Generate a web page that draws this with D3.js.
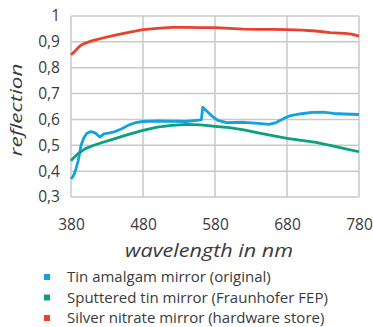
<!DOCTYPE html>
<html>
<head>
<meta charset="utf-8">
<script src="https://cdn.jsdelivr.net/npm/d3@7"></script>
<style>
  body { margin: 0; background: #fff; }
  svg text { font-family: "Open Sans", sans-serif; fill: #3a3a3a; }
</style>
</head>
<body>
<div id="chart"></div>
<script>
// data
const xTicks = [380, 480, 580, 680, 780];
const yTicks = [0.3, 0.4, 0.5, 0.6, 0.7, 0.8, 0.9, 1];

const tinWl  = [380, 383, 386, 390, 394, 398, 402, 408, 414, 420, 426, 432, 440, 450, 460, 470, 480, 500, 520, 540, 561, 563, 575, 584, 596, 620, 640, 655, 665, 675, 685, 700, 715, 730, 745, 760, 780];
const tinVal = [0.37, 0.38, 0.40, 0.44, 0.50, 0.53, 0.546, 0.553, 0.547, 0.532, 0.544, 0.547, 0.552, 0.563, 0.578, 0.588, 0.592, 0.594, 0.593, 0.592, 0.598, 0.647, 0.615, 0.596, 0.588, 0.589, 0.585, 0.581, 0.588, 0.603, 0.615, 0.622, 0.627, 0.628, 0.623, 0.621, 0.619];

const sputWl  = [380, 385, 390, 400, 410, 420, 440, 460, 480, 500, 520, 540, 560, 580, 600, 620, 640, 660, 680, 700, 720, 740, 760, 780];
const sputVal = [0.44, 0.455, 0.468, 0.487, 0.498, 0.508, 0.525, 0.542, 0.558, 0.57, 0.577, 0.581, 0.579, 0.573, 0.568, 0.56, 0.548, 0.537, 0.527, 0.519, 0.511, 0.5, 0.487, 0.475];

const silvWl  = [380, 385, 390, 395, 400, 410, 420, 440, 460, 480, 500, 520, 540, 560, 580, 600, 620, 640, 660, 680, 700, 720, 740, 760, 770, 780];
const silvVal = [0.85, 0.862, 0.878, 0.889, 0.895, 0.905, 0.912, 0.925, 0.937, 0.947, 0.952, 0.956, 0.956, 0.955, 0.955, 0.952, 0.949, 0.948, 0.948, 0.947, 0.945, 0.942, 0.936, 0.933, 0.930, 0.922];

const seriesNames  = ['Tin amalgam mirror (original)', 'Sputtered tin mirror (Fraunhofer FEP)', 'Silver nitrate mirror (hardware store)'];
const seriesColors = ['#12a3df', '#0aa082', '#e8422f'];

const W = 373, H = 327;
const margin = {top: 16, left: 71, right: 14, bottom: 130};
const width = W - margin.left - margin.right,
      height = H - margin.top - margin.bottom;

const svg = d3.select('#chart').append('svg')
    .attr('width', W).attr('height', H);

const g = svg.append('g')
    .attr('transform', 'translate(' + margin.left + ',' + margin.top + ')');

const xScale = d3.scaleLinear().domain([380, 780]).range([0, width]);
const yScale = d3.scaleLinear().domain([0.3, 1]).range([height, 0]);

// grid
g.append('g').selectAll('line.v').data(xTicks).join('line')
    .attr('x1', d => xScale(d)).attr('x2', d => xScale(d))
    .attr('y1', 0).attr('y2', height)
    .attr('stroke', '#c9c9c9').attr('stroke-width', 1.5);
g.append('g').selectAll('line.h').data(yTicks).join('line')
    .attr('x1', 0).attr('x2', width)
    .attr('y1', d => yScale(d)).attr('y2', d => yScale(d))
    .attr('stroke', '#c9c9c9').attr('stroke-width', 1.5);

const fmt = d => d === 1 ? '1' : d3.format('.1f')(d).replace('.', ',');

// axes (labels only)
const yAxis = g.append('g').call(d3.axisLeft(yScale).tickValues(yTicks).tickFormat(fmt).tickSize(0).tickPadding(11));
const xAxis = g.append('g').attr('transform', 'translate(0,' + height + ')')
    .call(d3.axisBottom(xScale).tickValues(xTicks).tickFormat(d3.format('d')).tickSize(0).tickPadding(22));
[yAxis, xAxis].forEach(a => {
    a.select('.domain').remove();
    a.selectAll('text').attr('font-size', 15.5).attr('fill', '#3a3a3a')
        .style('font-family', '"Open Sans", sans-serif');
});

// lines
const line = d3.line()
    .x(d => xScale(d[0]))
    .y(d => yScale(d[1]));

const series = [
    d3.zip(tinWl, tinVal),
    d3.zip(sputWl, sputVal),
    d3.zip(silvWl, silvVal)
];

g.selectAll('path.series').data(series).join('path')
    .attr('class', 'series')
    .attr('d', line)
    .attr('fill', 'none')
    .attr('stroke', (d, i) => seriesColors[i])
    .attr('stroke-width', 2.8)
    .attr('stroke-linejoin', 'round');

// axis titles
svg.append('text')
    .attr('transform', 'translate(22,110) rotate(-90)')
    .attr('text-anchor', 'middle')
    .attr('font-size', 17).attr('font-style', 'italic')
    .attr('textLength', 93).attr('lengthAdjust', 'spacingAndGlyphs')
    .attr('fill', '#222')
    .text('reflection');

svg.append('text')
    .attr('x', 209).attr('y', 257)
    .attr('text-anchor', 'middle')
    .attr('font-size', 18.5).attr('font-style', 'italic')
    .attr('textLength', 168).attr('lengthAdjust', 'spacingAndGlyphs')
    .attr('fill', '#222')
    .text('wavelength in nm');

// legend
const legend = svg.append('g').attr('transform', 'translate(44,277)');
const items = legend.selectAll('g').data(seriesNames).join('g')
    .attr('transform', (d, i) => 'translate(0,' + i * 20.5 + ')');
items.append('rect')
    .attr('x', 0).attr('y', -3).attr('width', 6).attr('height', 6)
    .attr('fill', (d, i) => seriesColors[i]);
items.append('text')
    .attr('x', 23).attr('y', 5)
    .attr('font-size', 15)
    .attr('fill', '#3a3a3a')
    .text(d => d);
</script>
</body>
</html>
